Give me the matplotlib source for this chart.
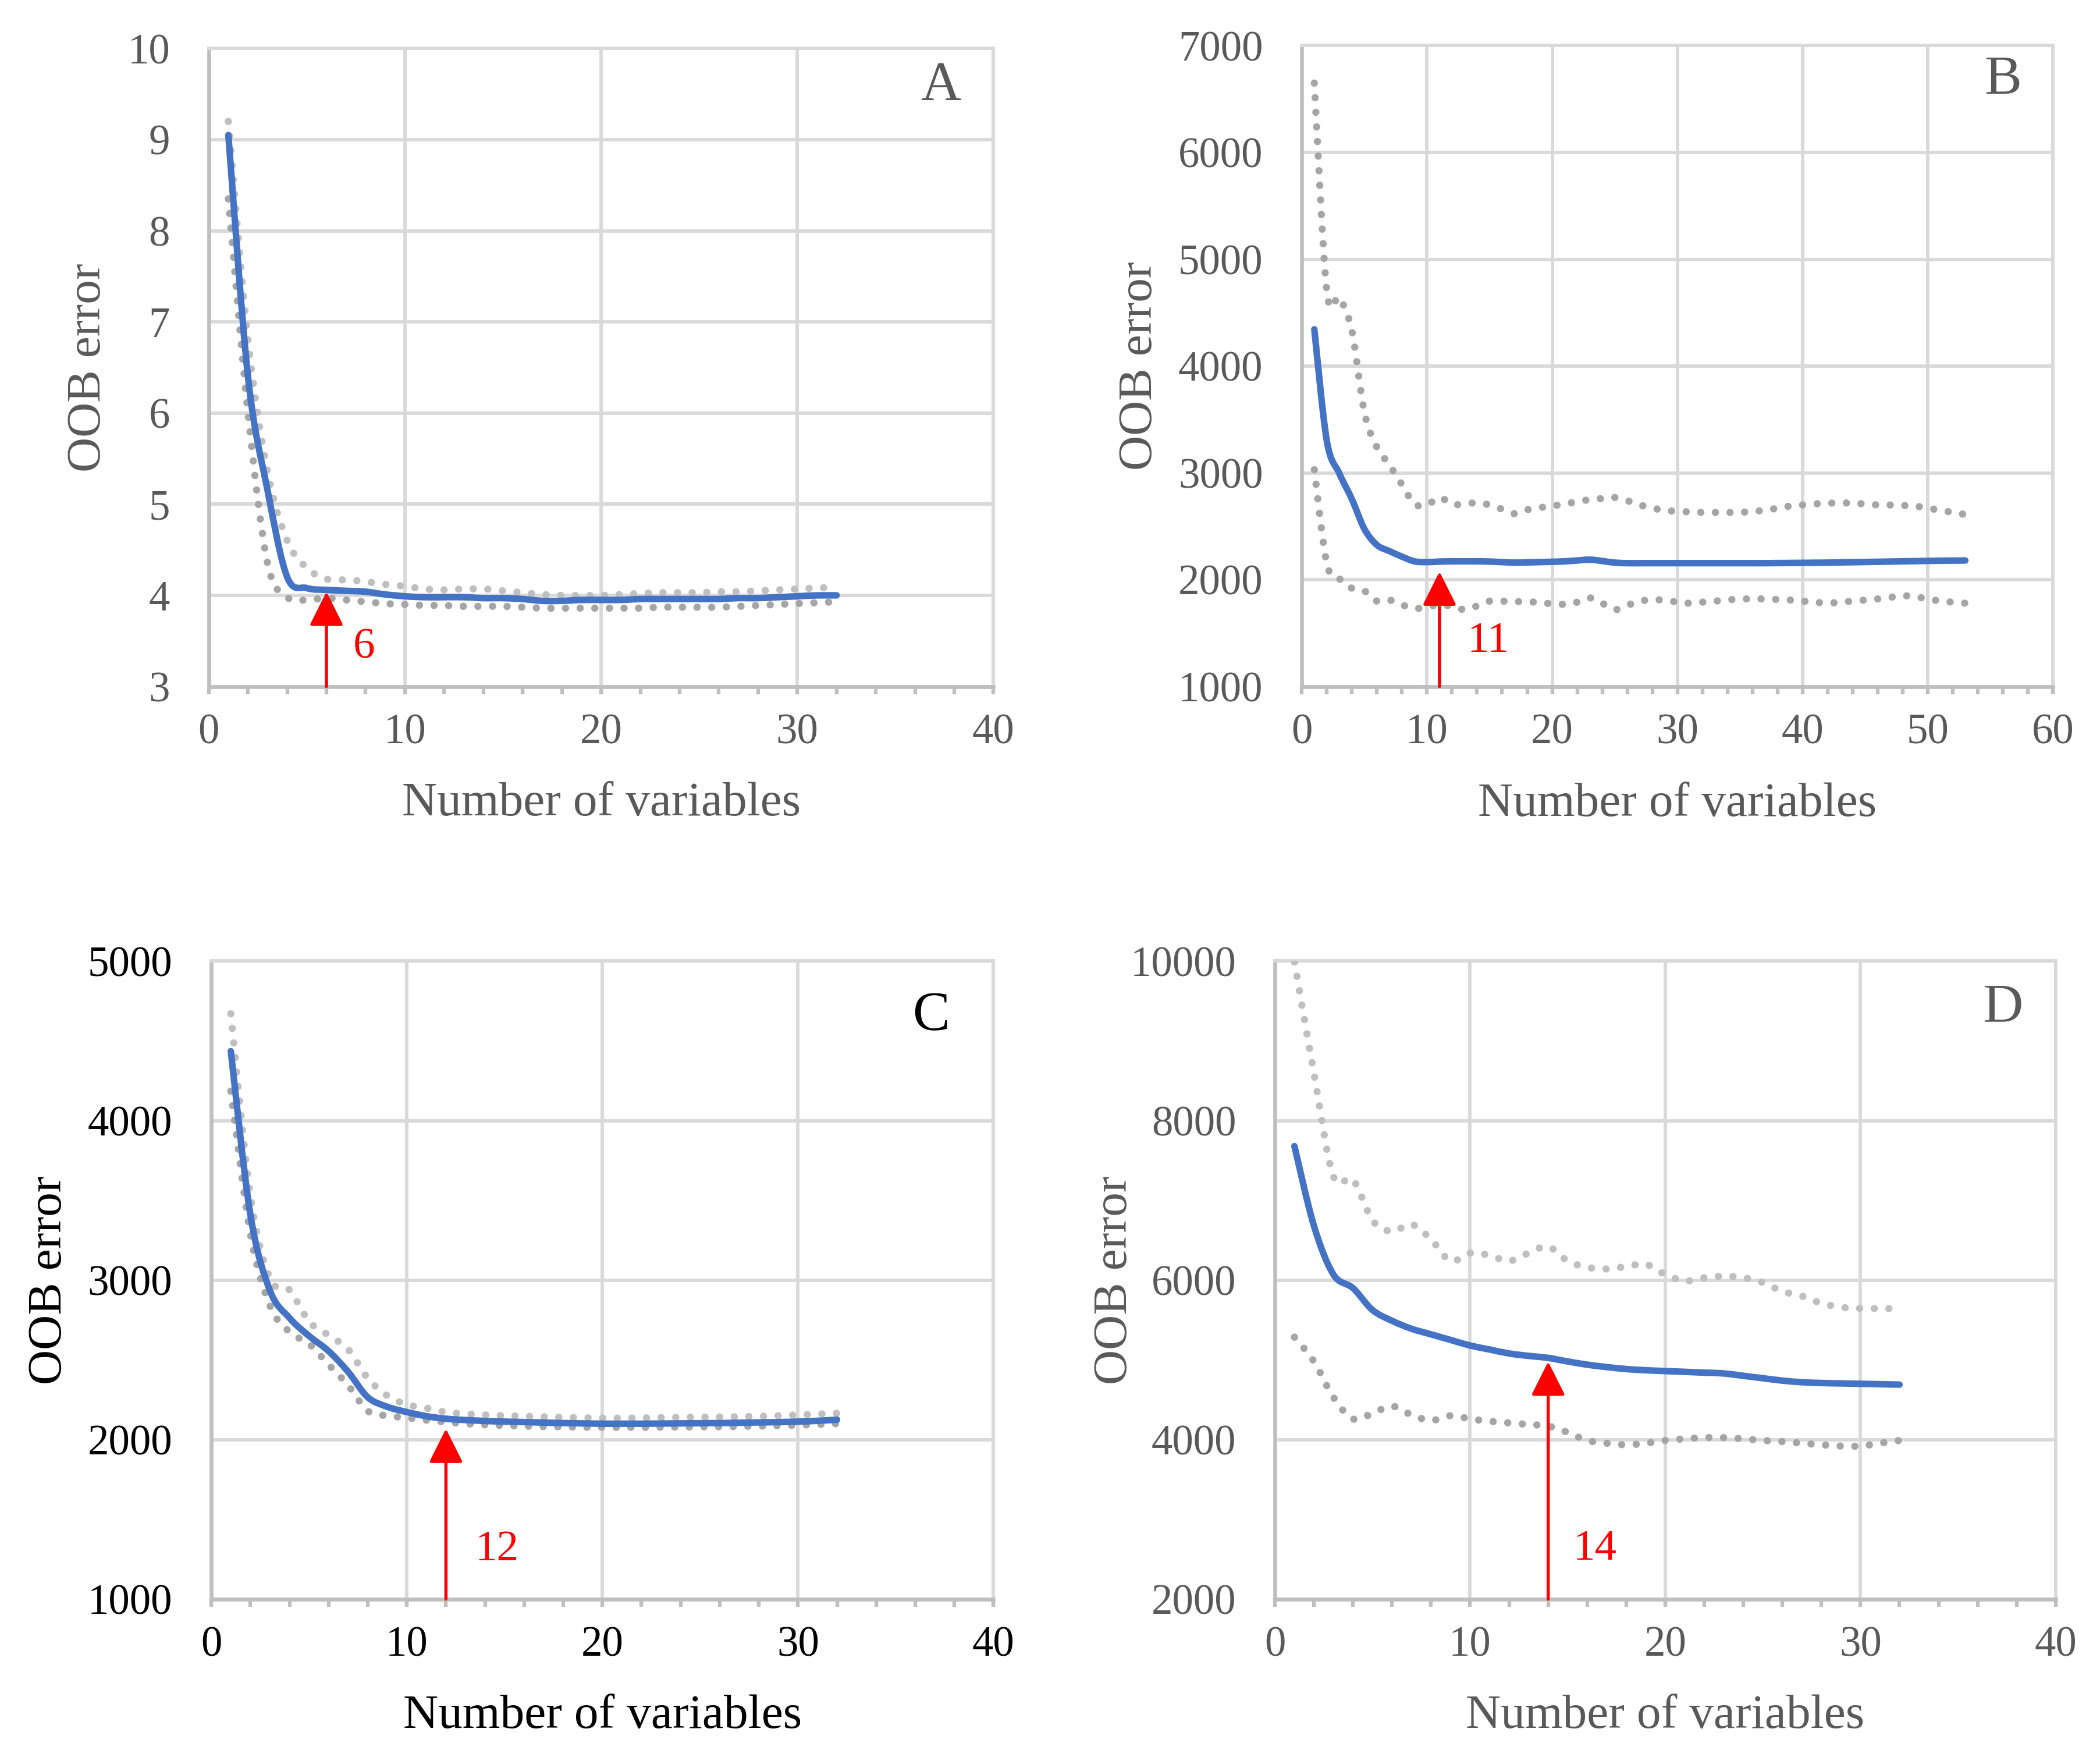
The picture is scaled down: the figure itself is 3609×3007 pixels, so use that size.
import numpy as np
import matplotlib
matplotlib.use('Agg')
import matplotlib.pyplot as plt
from matplotlib.path import Path
from matplotlib.patches import PathPatch

# valeurs (erreur OOB selon le nombre de variables)
a_x = np.arange(1, 33)
a_mean = [9.05, 6.4, 5.15, 4.2, 4.08, 4.06, 4.05, 4.04, 4.01, 3.99, 3.98, 3.98, 3.98, 3.97, 3.97, 3.96,
          3.94, 3.94, 3.95, 3.95, 3.95, 3.96, 3.96, 3.96, 3.96, 3.96, 3.97, 3.97, 3.98, 3.99, 4.0, 4.0]
a_upper = [9.2, 6.8, 5.35, 4.6, 4.3, 4.18, 4.17, 4.15, 4.12, 4.1, 4.07, 4.06, 4.07, 4.07, 4.05, 4.03,
           4.01, 4.0, 4.0, 4.0, 4.01, 4.02, 4.03, 4.03, 4.03, 4.04, 4.04, 4.05, 4.06, 4.07, 4.08, 4.09]
a_lower = [8.35, 6.0, 4.35, 3.98, 3.95, 3.97, 3.95, 3.93, 3.91, 3.9, 3.89, 3.89, 3.88, 3.88, 3.88, 3.87,
           3.86, 3.86, 3.86, 3.86, 3.86, 3.86, 3.87, 3.87, 3.87, 3.87, 3.88, 3.89, 3.9, 3.91, 3.92, 3.93]

b_x = np.arange(1, 54)
b_mean = [4345, 3300, 2995, 2755, 2475, 2325, 2268, 2216, 2172, 2165, 2170, 2172, 2172, 2172, 2170, 2165,
          2160, 2162, 2165, 2168, 2172, 2180, 2188, 2175, 2160, 2155, 2155, 2155, 2155, 2155, 2155, 2155,
          2155, 2155, 2155, 2155, 2155, 2156, 2157, 2158, 2159, 2160, 2162, 2164, 2166, 2168, 2170, 2172,
          2174, 2176, 2178, 2179, 2180]
b_upper = [6650, 4700, 4640, 4330, 3566, 3240, 3075, 2890, 2710, 2700, 2770, 2705, 2710, 2720, 2700, 2660,
           2618, 2655, 2675, 2690, 2710, 2730, 2750, 2760, 2770, 2740, 2700, 2670, 2650, 2640, 2635, 2630,
           2630, 2630, 2630, 2640, 2650, 2670, 2690, 2700, 2710, 2715, 2720, 2715, 2710, 2700, 2700, 2695,
           2690, 2670, 2650, 2630, 2610]
b_lower = [3030, 2150, 2010, 1920, 1895, 1800, 1810, 1765, 1730, 1745, 1765, 1750, 1720, 1755, 1800, 1800,
           1795, 1795, 1785, 1775, 1770, 1790, 1830, 1780, 1720, 1760, 1800, 1810, 1810, 1790, 1780, 1790,
           1800, 1810, 1820, 1820, 1820, 1815, 1810, 1800, 1790, 1780, 1790, 1800, 1810, 1820, 1835, 1850,
           1840, 1820, 1800, 1790, 1780]

c_x = np.arange(1, 33)
c_mean = [4435, 3410, 2935, 2763, 2650, 2555, 2425, 2266, 2206, 2173, 2147, 2131, 2123, 2117, 2113, 2110,
          2107, 2104, 2102, 2100, 2100, 2100, 2101, 2102, 2103, 2104, 2106, 2108, 2110, 2113, 2118, 2125]
c_upper = [4670, 3530, 3010, 2938, 2740, 2655, 2565, 2385, 2276, 2220, 2198, 2172, 2162, 2155, 2150, 2147,
           2143, 2140, 2137, 2135, 2135, 2136, 2138, 2140, 2141, 2142, 2144, 2146, 2150, 2155, 2160, 2165]
c_lower = [4185, 3290, 2840, 2675, 2600, 2470, 2340, 2180, 2150, 2137, 2122, 2110, 2100, 2093, 2088, 2085,
           2082, 2080, 2078, 2077, 2077, 2077, 2078, 2079, 2080, 2081, 2083, 2085, 2087, 2090, 2095, 2100]

d_x = np.arange(1, 33)
d_mean = [7680, 6680, 6070, 5900, 5625, 5490, 5390, 5320, 5250, 5180, 5130, 5080, 5050, 5025, 4980, 4940,
          4910, 4885, 4870, 4860, 4850, 4840, 4830, 4800, 4770, 4740, 4720, 4710, 4705, 4700, 4695, 4690]
d_upper = [9990, 8590, 7300, 7260, 6750, 6610, 6700, 6510, 6240, 6340, 6310, 6240, 6340, 6420, 6240, 6160,
           6140, 6170, 6200, 6070, 5990, 6030, 6050, 6030, 5970, 5860, 5800, 5710, 5660, 5645, 5645, 5640]
d_lower = [5285, 4980, 4530, 4260, 4330, 4420, 4310, 4240, 4300, 4260, 4230, 4210, 4190, 4170, 4090, 3990,
           3955, 3935, 3955, 3990, 4010, 4025, 4025, 4010, 3990, 3975, 3955, 3935, 3920, 3920, 3955, 3990]

# variable retenue (flèche rouge) et lettres des panneaux
panel_letters = ['A', 'B', 'C', 'D']
best_n = [6, 11, 12, 14]

plt.rcParams['font.family'] = ['Liberation Serif', 'DejaVu Serif']


def courbe_lissee(x, y):
    # ligne lissée façon Excel : courbes de Bézier passant par chaque point
    pts = np.column_stack([x, y]).astype(float)
    n = len(pts)
    verts = [pts[0]]
    codes = [Path.MOVETO]
    for i in range(n - 1):
        p0 = pts[i - 1] if i > 0 else pts[i]
        p1 = pts[i]
        p2 = pts[i + 1]
        p3 = pts[i + 2] if i + 2 < n else pts[i + 1]
        verts += [p1 + (p2 - p0) / 6, p2 - (p3 - p1) / 6, p2]
        codes += [Path.CURVE4] * 3
    return Path(verts, codes)


fig = plt.figure(figsize=(3609 / 300, 3007 / 300), dpi=300)

panels = [
    dict(pos=[0.0994, 0.6077, 0.3737, 0.3646], x=a_x, mean=a_mean, up=a_upper, low=a_lower,
         xlim=(0, 40), ylim=(3, 10), ystep=1, tip=4.04, lab=(7.9, 3.43), let=(37.3, 9.58),
         col='#595959', ylab_x=-0.153, c_up='#BFBFBF'),
    dict(pos=[0.6199, 0.6077, 0.3577, 0.3662], x=b_x, mean=b_mean, up=b_upper, low=b_lower,
         xlim=(0, 60), ylim=(1000, 7000), ystep=1000, tip=2076, lab=(14.9, 1420), let=(56.0, 6670),
         col='#595959', ylab_x=-0.215, c_up='#A5A5A5'),
    dict(pos=[0.1006, 0.0862, 0.3725, 0.3646], x=c_x, mean=c_mean, up=c_upper, low=c_lower,
         xlim=(0, 40), ylim=(1000, 5000), ystep=1000, tip=2068, lab=(14.6, 1307), let=(36.8, 4652),
         col='black', ylab_x=-0.2065, c_up='#BFBFBF'),
    dict(pos=[0.6071, 0.0862, 0.3718, 0.3646], x=d_x, mean=d_mean, up=d_upper, low=d_lower,
         xlim=(0, 40), ylim=(2000, 10000), ystep=2000, tip=4978, lab=(16.4, 2627), let=(37.3, 9407),
         col='#595959', ylab_x=-0.205, c_up='#BFBFBF'),
]

for i, p in enumerate(panels):
    ax = fig.add_axes(p['pos'])
    for serie, couleur in [(p['up'], p['c_up']), (p['low'], '#A5A5A5')]:
        ax.add_patch(PathPatch(courbe_lissee(p['x'], serie), fill=False, edgecolor=couleur, lw=3.0,
                               linestyle=(0, (0.01, 2.0)), capstyle='round', zorder=3))
    ax.add_patch(PathPatch(courbe_lissee(p['x'], p['mean']), fill=False, edgecolor='#4472C4',
                           lw=2.7, capstyle='round', joinstyle='round', zorder=4))

    ax.set_xlim(*p['xlim'])
    ax.set_ylim(*p['ylim'])
    ax.set_xticks(np.arange(p['xlim'][0], p['xlim'][1] + 1, 10))
    ax.set_xticks(np.arange(p['xlim'][0], p['xlim'][1] + 1, 2), minor=True)
    ax.set_yticks(np.arange(p['ylim'][0], p['ylim'][1] + 1, p['ystep']))
    ax.grid(True, which='major', color='#D9D9D9', lw=1.4, zorder=0)
    ax.set_axisbelow(True)
    for s in ['top', 'right']:
        ax.spines[s].set_color('#D9D9D9')
        ax.spines[s].set_linewidth(1.4)
    for s in ['left', 'bottom']:
        ax.spines[s].set_color('#BFBFBF')
        ax.spines[s].set_linewidth(1.6)
    ax.tick_params(axis='x', which='both', direction='out', length=3.2, width=1.5,
                   color='#BFBFBF', labelsize=17.5, labelcolor=p['col'], pad=8)
    ax.tick_params(axis='y', length=0, labelsize=17.5, labelcolor=p['col'], pad=16)

    ax.set_xlabel('Number of variables', fontsize=20, color=p['col'])
    ax.set_ylabel('OOB error', fontsize=20, color=p['col'])
    ax.xaxis.set_label_coords(0.5, -0.184)
    ax.xaxis.label.set_va('center')
    ax.yaxis.set_label_coords(p['ylab_x'], 0.5)
    ax.yaxis.label.set_va('center')

    # flèche rouge vers le nombre de variables retenu
    ax.annotate('', xy=(best_n[i], p['tip']), xytext=(best_n[i], p['ylim'][0]),
                arrowprops=dict(arrowstyle='-|>', color='#FF0000', lw=1.3,
                                mutation_scale=30, shrinkA=0, shrinkB=0), zorder=5)
    ax.text(p['lab'][0], p['lab'][1], str(best_n[i]), color='#FF0000', fontsize=18,
            ha='center', va='center', zorder=5)
    ax.text(p['let'][0], p['let'][1], panel_letters[i], color=p['col'], fontsize=23,
            ha='center', va='center', zorder=5)

fig.savefig('out.png', dpi=300)
plt.close(fig)
